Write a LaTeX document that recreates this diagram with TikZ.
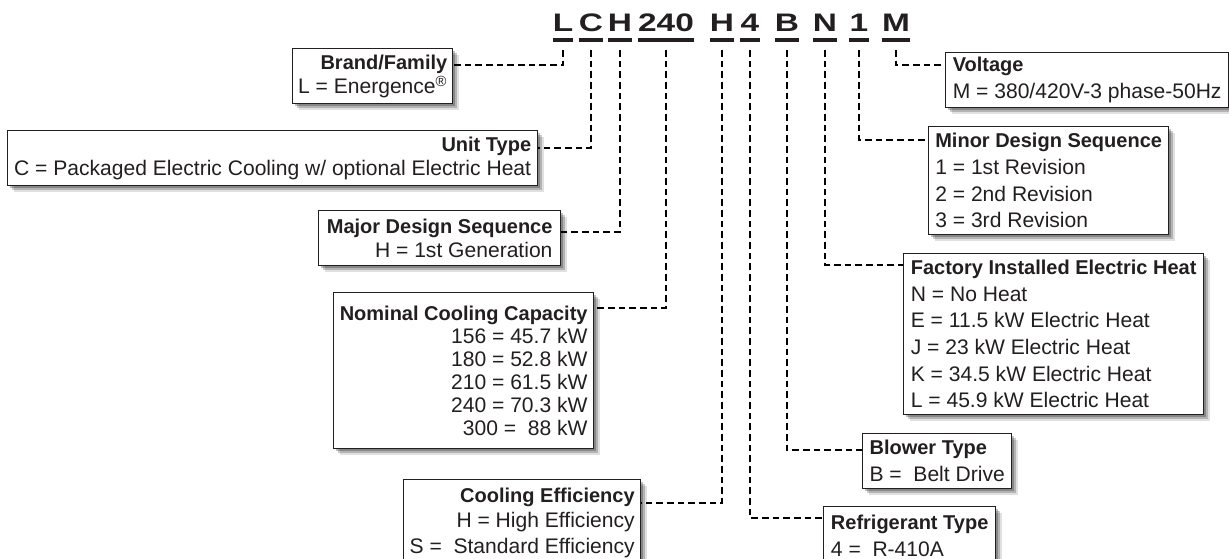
\documentclass[tikz,border=0pt]{standalone}
\usepackage{fontspec}
\setmainfont{Liberation Sans}
\newfontfamily\codefont{Liberation Sans}[FakeStretch=1.32]
\usetikzlibrary{shadows}
\definecolor{KeyInk}{HTML}{231F20}
\newcommand\hd[1]{{\bfseries\fontsize{15}{15}\selectfont #1}}

\begin{document}
\begin{tikzpicture}[x=0.75pt,y=-0.75pt,text=KeyInk,
  c/.style={font=\codefont\bfseries\fontsize{19}{20}\selectfont,inner sep=0pt,anchor=base},
  b/.style={draw=KeyInk,line width=1pt,fill=white,anchor=north west,inner xsep=2.5pt,inner ysep=0pt,
    drop shadow={shadow xshift=1.5pt,shadow yshift=-2pt,opacity=.25,fill=black},
    drop shadow={shadow xshift=3pt,shadow yshift=-3.5pt,opacity=.2,fill=black},
    drop shadow={shadow xshift=4.5pt,shadow yshift=-5pt,opacity=.12,fill=black}},
  bl/.style={b,align=right,font=\fontsize{15.8}{18}\selectfont},
  br/.style={b,align=left,font=\fontsize{15.8}{20}\selectfont},
  l/.style={draw=black,line width=1.8pt,dash pattern=on 5pt off 3pt}]
  \clip (0,0) rectangle (1229,559);

  % model number
  \node[c] (cL) at (563,32) {L};
  \node[c] (cC) at (591,32) {C};
  \node[c] (cH) at (620,32) {H};
  \node[c] (c240) at (666,32) {240};
  \node[c] (cHe) at (722,32) {H};
  \node[c] (c4) at (750,32) {4};
  \node[c] (cB) at (787,32) {B};
  \node[c] (cN) at (825,32) {N};
  \node[c] (c1) at (859,32) {1};
  \node[c] (cM) at (896,32) {M};
  \foreach \n in {cL,cC,cH,c240,cHe,c4,cB,cN,c1,cM}
    \draw[KeyInk,line width=2.4pt] ([yshift=-6pt]\n.base west) -- ([yshift=-6pt]\n.base east);

  % left keys
  \node[bl,minimum width=120pt,minimum height=41.25pt] (brand) at (292,48)
    {\hd{Brand/Family}\\L = Energence\textsuperscript{®}};
  \node[bl,minimum width=397.5pt,minimum height=41.25pt] (unit) at (7,130)
    {\hd{Unit Type}\\C = Packaged Electric Cooling w/ optional Electric Heat};
  \node[bl,minimum width=181.5pt,minimum height=41.25pt] (major) at (318,210)
    {\hd{Major Design Sequence}\\H = 1st Generation};
  \node[bl,minimum width=195pt,minimum height=117pt,font=\fontsize{15.8}{17.25}\selectfont] (cap) at (333,292)
    {\hd{Nominal Cooling Capacity}\\156 = 45.7 kW\\180 = 52.8 kW\\210 = 61.5 kW\\240 = 70.3 kW\\300 =\ \ 88 kW};
  \node[bl,minimum width=177.75pt,minimum height=64.5pt,font=\fontsize{15.8}{19}\selectfont] (eff) at (403,479)
    {\hd{Cooling Efficiency}\\H = High Efficiency\\S =\ \ Standard Efficiency};

  % right keys
  \node[br,minimum width=212.25pt,minimum height=41.25pt] (volt) at (945,52)
    {\hd{Voltage}\\M = 380/420V-3 phase-50Hz};
  \node[br,minimum width=180pt,minimum height=81pt] (minor) at (928,126)
    {\hd{Minor Design Sequence}\\1 = 1st Revision\\2 = 2nd Revision\\3 = 3rd Revision};
  \node[br,minimum width=225pt,minimum height=120.75pt] (heat) at (903,253)
    {\hd{Factory Installed Electric Heat}\\N = No Heat\\E = 11.5 kW Electric Heat\\J = 23 kW Electric Heat\\K = 34.5 kW Electric Heat\\L = 45.9 kW Electric Heat};
  \node[br,minimum width=111.75pt,minimum height=41.25pt] (blow) at (862,433)
    {\hd{Blower Type}\\B =\ \ Belt Drive};
  \node[br,minimum width=129pt,minimum height=43.5pt] (refr) at (823,506)
    {\hd{Refrigerant Type}\\4 =\ \ R-410A};

  % leaders
  \draw[l] ([yshift=-13.5pt]cL.base) |- ([yshift=-12.75pt]brand.north east);
  \draw[l] ([yshift=-13.5pt]cC.base) |- ([yshift=-13.5pt]unit.north east);
  \draw[l] ([yshift=-13.5pt]cH.base) |- ([yshift=-16.5pt]major.north east);
  \draw[l] ([yshift=-13.5pt]c240.base) |- ([yshift=-12pt]cap.north east);
  \draw[l] ([yshift=-13.5pt]cHe.base) |- ([yshift=-18pt]eff.north east);
  \draw[l] ([yshift=-13.5pt]c4.base) |- ([yshift=-9pt]refr.north west);
  \draw[l] ([yshift=-13.5pt]cB.base) |- ([yshift=-12.75pt]blow.north west);
  \draw[l] ([yshift=-13.5pt]cN.base) |- ([yshift=-9pt]heat.north west);
  \draw[l] ([yshift=-13.5pt]c1.base) |- ([yshift=-10.5pt]minor.north west);
  \draw[l] ([yshift=-13.5pt]cM.base) |- ([yshift=-9.75pt]volt.north west);
\end{tikzpicture}
\end{document}
